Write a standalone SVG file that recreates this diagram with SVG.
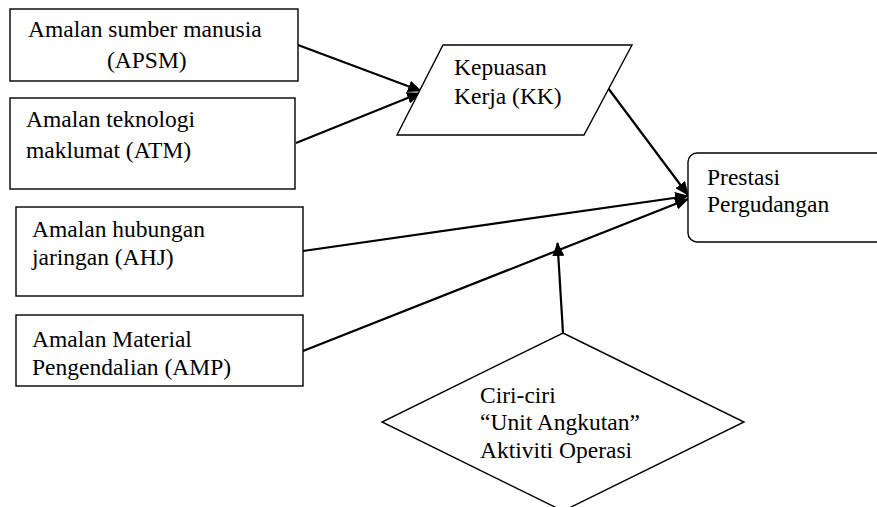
<svg xmlns="http://www.w3.org/2000/svg" width="877" height="507" viewBox="0 0 877 507">
<style>
.node{fill:#fff;stroke:#000;stroke-width:1.4}
.lbl{font-family:'Liberation Serif',serif;font-size:23.5px;fill:#000}
.conn{stroke:#000;stroke-width:2.2;fill:none}
</style>
<defs>
<marker id="ah" markerUnits="userSpaceOnUse" markerWidth="15" markerHeight="12" refX="13" refY="6" orient="auto">
<path d="M0,0 L14,6 L0,12 Z" fill="#000"/>
</marker>
</defs>
<rect width="877" height="507" fill="#fff"/>
<g id="connectors">
<line class="conn" x1="298" y1="45" x2="421" y2="91" marker-end="url(#ah)"/>
<line class="conn" x1="296" y1="143" x2="420" y2="93" marker-end="url(#ah)"/>
<line class="conn" x1="608" y1="88" x2="688" y2="195" marker-end="url(#ah)"/>
<line class="conn" x1="303" y1="251" x2="688" y2="196" marker-end="url(#ah)"/>
<line class="conn" x1="303" y1="351" x2="688" y2="199" marker-end="url(#ah)"/>
<line class="conn" x1="563" y1="333" x2="557.5" y2="243" marker-end="url(#ah)"/>
</g>
<g id="apsm">
<rect class="node" x="10" y="9" width="288" height="72"/>
<text class="lbl" x="28" y="37" font-family="Liberation Serif, serif">Amalan sumber manusia</text>
<text class="lbl" x="107" y="68" font-family="Liberation Serif, serif">(APSM)</text>
</g>
<g id="atm">
<rect class="node" x="10" y="98" width="285" height="91"/>
<text class="lbl" x="26" y="127">Amalan teknologi</text>
<text class="lbl" x="26" y="158">maklumat (ATM)</text>
</g>
<g id="ahj">
<rect class="node" x="16" y="207" width="287" height="89"/>
<text class="lbl" x="32" y="237">Amalan hubungan</text>
<text class="lbl" x="32" y="265">jaringan (AHJ)</text>
</g>
<g id="amp">
<rect class="node" x="16" y="315" width="287" height="71"/>
<text class="lbl" x="32" y="347">Amalan Material</text>
<text class="lbl" x="32" y="375">Pengendalian (AMP)</text>
</g>
<g id="kk">
<polygon class="node" points="443,45 632,45 584,135 397,135"/>
<text class="lbl" x="454" y="75">Kepuasan</text>
<text class="lbl" x="454" y="104">Kerja (KK)</text>
</g>
<g id="prestasi">
<rect class="node" x="688" y="153" width="200" height="89" rx="9" ry="9"/>
<text class="lbl" x="707" y="185">Prestasi</text>
<text class="lbl" x="707" y="212">Pergudangan</text>
</g>
<g id="ciri">
<polygon class="node" points="563,333 744,422 563,511 382,422"/>
<text class="lbl" x="480" y="403">Ciri-ciri</text>
<text class="lbl" x="480" y="430">“Unit Angkutan”</text>
<text class="lbl" x="480" y="458">Aktiviti Operasi</text>
</g>
</svg>
